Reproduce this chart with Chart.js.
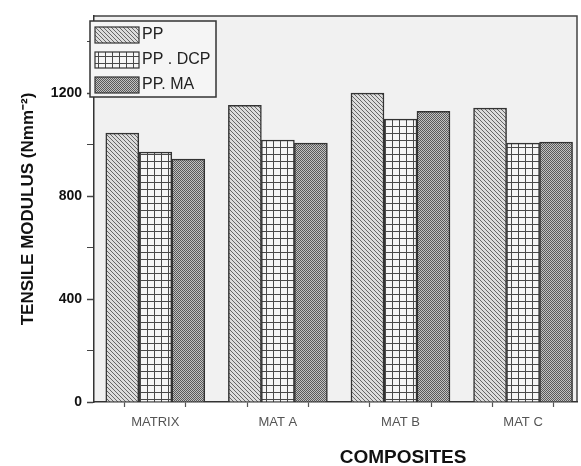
<!DOCTYPE html>
<html>
<head>
<meta charset="utf-8">
<script src="https://cdn.jsdelivr.net/npm/chart.js@4.4.1/dist/chart.umd.min.js"></script>
<style>
  html, body { margin: 0; padding: 0; background: #fff; overflow: hidden; }
  #wrap { width: 581px; height: 466px; }
</style>
</head>
<body>
<div id="wrap"><canvas id="chart" width="581" height="466"></canvas></div>
<script>
const categories = ['MATRIX', 'MAT A', 'MAT B', 'MAT C'];
const seriesNames = ['PP', 'PP . DCP', 'PP. MA'];
const ppValues = [1045, 1153, 1200, 1142];
const dcpValues = [971, 1018, 1099, 1006];
const maValues = [944, 1006, 1130, 1010];
const yTicks = [0, 200, 400, 600, 800, 1000, 1200, 1400];
const xTicks = [0.5, 1, 1.5, 2, 2.5, 3, 3.5, 4];

const FONT = '"Liberation Sans", Arial, sans-serif';

// small repeating tiles used as bar fills
const makePattern = (size, draw) => {
    const tile = document.createElement('canvas');
    tile.width = size;
    tile.height = size;
    const g = tile.getContext('2d');
    draw(g, size);
    return g.createPattern(tile, 'repeat');
};

const hatchFill = makePattern(4, (g, s) => {
    g.fillStyle = '#dcdcdc';
    g.fillRect(0, 0, s, s);
    g.strokeStyle = '#666';
    g.lineWidth = 1;
    g.beginPath();
    g.moveTo(-1, -1); g.lineTo(s + 1, s + 1);
    g.moveTo(-1, s - 1); g.lineTo(1, s + 1);
    g.moveTo(s - 1, -1); g.lineTo(s + 1, 1);
    g.stroke();
});

const gridFill = makePattern(7, (g, s) => {
    g.fillStyle = '#f6f6f6';
    g.fillRect(0, 0, s, s);
    g.fillStyle = '#4a4a4a';
    g.fillRect(0, 0, s, 1);
    g.fillRect(0, 0, 1, s);
});

const dotFill = makePattern(2, (g) => {
    g.fillStyle = '#c2c2c2';
    g.fillRect(0, 0, 2, 2);
    g.fillStyle = '#5a5a5a';
    g.fillRect(0, 0, 1, 1);
    g.fillRect(1, 1, 1, 1);
});

const fills = [hatchFill, gridFill, dotFill];

const toPoints = (values) => values.map((v, i) => ({ x: i + 1, y: v }));

const framePlugin = {
    id: 'frame',
    beforeDraw(chart) {
        const { ctx, chartArea: a } = chart;
        ctx.save();
        ctx.fillStyle = '#fff';
        ctx.fillRect(0, 0, chart.width, chart.height);
        ctx.fillStyle = '#f1f1f1';
        ctx.fillRect(a.left, a.top, a.right - a.left, a.bottom - a.top);
        ctx.strokeStyle = '#444';
        ctx.lineWidth = 1.5;
        ctx.beginPath();
        ctx.moveTo(a.left, a.top);
        ctx.lineTo(a.right, a.top);
        ctx.lineTo(a.right, a.bottom);
        ctx.stroke();
        ctx.restore();
    },
    afterDraw(chart) {
        const { ctx } = chart;
        ctx.save();
        ctx.fillStyle = '#111';
        ctx.font = `bold 19px ${FONT}`;
        ctx.textAlign = 'center';
        ctx.textBaseline = 'middle';
        ctx.fillText('COMPOSITES', 403, 458);
        ctx.restore();
    },
};

// legend box sitting in the top-left corner of the plot
const insetLegend = {
    id: 'insetLegend',
    afterDatasetsDraw(chart) {
        const { ctx } = chart;
        const box = { x: 90, y: 21, w: 126, h: 76 };
        ctx.save();
        ctx.fillStyle = '#f5f5f5';
        ctx.fillRect(box.x, box.y, box.w, box.h);
        ctx.strokeStyle = '#333';
        ctx.lineWidth = 1.5;
        ctx.strokeRect(box.x, box.y, box.w, box.h);
        ctx.font = `16px ${FONT}`;
        ctx.textBaseline = 'middle';
        chart.data.datasets.forEach((ds, i) => {
            const y = box.y + 6 + i * 25;
            ctx.fillStyle = ds.backgroundColor;
            ctx.fillRect(box.x + 5, y, 44, 16);
            ctx.strokeStyle = '#333';
            ctx.lineWidth = 1.2;
            ctx.strokeRect(box.x + 5, y, 44, 16);
            ctx.fillStyle = '#222';
            ctx.fillText(ds.label, box.x + 52, y + 8);
        });
        ctx.restore();
    },
};

const chart = new Chart(document.getElementById('chart'), {
    type: 'bar',
    data: {
        datasets: [ppValues, dcpValues, maValues].map((values, i) => ({
            label: seriesNames[i],
            data: toPoints(values),
            backgroundColor: fills[i],
            borderColor: '#333',
            borderWidth: 1.5,
            barThickness: 33,
        })),
    },
    options: {
        responsive: false,
        animation: false,
        layout: { padding: { top: 16, right: 4, left: 0, bottom: 0 } },
        plugins: { legend: { display: false }, tooltip: { enabled: false } },
        scales: {
            x: {
                type: 'linear',
                min: 0.5,
                max: 4.44,
                offset: false,
                afterBuildTicks: (axis) => { axis.ticks = xTicks.map((value) => ({ value })); },
                afterFit: (axis) => { axis.height = 64; },
                ticks: {
                    autoSkip: false,
                    maxRotation: 0,
                    padding: 8,
                    color: '#555',
                    font: { family: FONT, size: 13 },
                    callback: (value) => (Number.isInteger(value) ? categories[value - 1] : ''),
                },
                grid: { drawOnChartArea: false, tickLength: 5, tickColor: '#555', tickWidth: 1.2 },
                border: { color: '#333', width: 1.5 },
            },
            y: {
                min: 0,
                max: 1500,
                afterBuildTicks: (axis) => { axis.ticks = yTicks.map((value) => ({ value })); },
                afterFit: (axis) => { axis.width = 94; },
                ticks: {
                    padding: 5,
                    color: '#111',
                    font: { family: FONT, size: 14, weight: 'bold' },
                    callback: (value) => (value % 400 === 0 ? value : ''),
                },
                grid: {
                    drawOnChartArea: false,
                    tickLength: 7,
                    tickColor: '#444',
                    tickWidth: (c) => (c.tick && c.tick.value % 400 === 0 ? 1.5 : 1),
                },
                border: { color: '#333', width: 1.5 },
                title: {
                    display: true,
                    text: 'TENSILE MODULUS (Nmm⁻²)',
                    color: '#111',
                    font: { family: FONT, size: 17, weight: 'bold' },
                    padding: { top: 18, bottom: 0 },
                },
            },
        },
    },
    plugins: [framePlugin, insetLegend],
});
</script>
</body>
</html>
